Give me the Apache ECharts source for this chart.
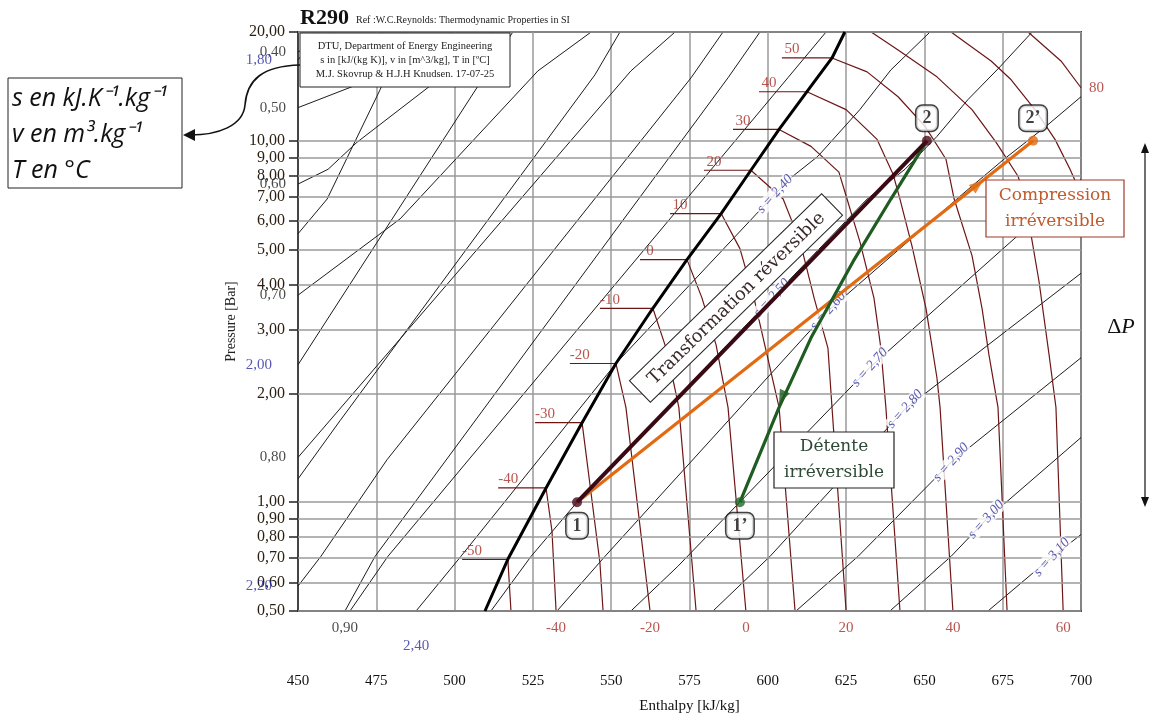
<!DOCTYPE html>
<html><head><meta charset="utf-8">
<script src="https://cdn.jsdelivr.net/npm/echarts/dist/echarts.min.js"></script>
<style>html,body{margin:0;padding:0;background:#fff}#c{width:1152px;height:719px}</style>
</head><body><div id="c"></div>
<script>
// ---------- DATA (h in kJ/kg, P in bar) ----------
const pressureTicks = [20,10,9,8,7,6,5,4,3,2,1,0.9,0.8,0.7,0.6,0.5];

const satVap = [[509.7,0.5],[517.0,0.695],[529.2,1.095],[540.7,1.66],[551.5,2.42],[563.3,3.44],[574.2,4.69],[585.1,6.29],[594.6,8.29],[603.6,10.75],[612.5,13.67],[620.5,16.95],[624.6,20]];

// isotherms (first two points: two-phase part ending on the saturation line)
const tM50 = [[502.4,0.695],[517.0,0.695],[518.0,0.5]];
const tM40 = [[513.9,1.095],[529.2,1.095],[531.1,0.83],[532.4,0.5]];
const tM30 = [[525.7,1.66],[540.7,1.66],[546.4,0.68],[547.4,0.5]];
const tM20 = [[536.8,2.42],[551.5,2.42],[554.7,1.83],[562.4,0.5]];
const tM10 = [[546.4,3.44],[563.3,3.44],[567.2,2.72],[570.1,2.11],[571.6,1.83],[577.1,0.5]];
const t0   = [[559.2,4.69],[574.2,4.69],[579.0,3.67],[583.5,2.72],[587.3,1.83],[593.0,0.5]];
const t10  = [[568.8,6.29],[585.1,6.29],[591.1,5.03],[595.6,3.67],[603.6,1.83],[608.7,0.5]];
const t20  = [[579.6,8.29],[594.6,8.29],[604.9,6.90],[610.3,5.26],[614.8,3.67],[619.2,2.67],[620.5,1.83],[625.0,0.5]];
const t30  = [[588.9,10.75],[603.6,10.75],[613.8,9.65],[622.7,8.19],[625.3,6.90],[629.4,5.26],[633.9,3.67],[636.1,2.67],[637.7,1.83],[642.2,0.5]];
const t40  = [[597.2,13.67],[612.5,13.67],[625.0,12.20],[634.9,10.09],[640.0,8.08],[642.2,6.90],[646.0,5.13],[650.5,3.44],[654.0,2.21],[655.0,1.83],[659.1,0.5]];
const t50  = [[604.5,16.95],[620.5,16.95],[631.7,15.51],[641.6,13.24],[650.2,10.96],[656.9,8.89],[659.5,6.90],[665.2,4.81],[668.4,3.44],[670.6,2.56],[673.5,1.83],[676.4,0.5]];
const t60  = [[633.0,20],[641.6,17.83],[654.0,15.03],[665.2,12.20],[672.9,9.90],[679.9,7.98],[682.1,6.90],[686.6,4.08],[689.8,2.56],[692.0,1.83],[694.3,0.5]];
const t70  = [[658.5,20],[671.3,16.63],[677.7,14.75],[685.3,12.20],[691.7,10.09],[696.5,8.34],[700,7.12]];
const t80  = [[683.1,20],[693.6,16.63],[700,14.02]];
const isoTwoPhaseNames = ['-50','-40','-30','-20','-10','0','10','20','30','40','50'];
const isoBottomNames = ['-40','-20','0','20','40','60'];

// lines labelled 0,40 ... 0,90
const q40 = [[450,17.61],[461.8,20]];
const q50 = [[450,12.35],[467.2,14.11],[512.3,20]];
const q60 = [[450,7.59],[459.6,8.34],[468.8,9.90],[514.5,20]];
const q70 = [[450,3.74],[482.6,6.08],[526.6,15.61],[543.6,20]];
const q80 = [[450,1.33],[556.3,15.61],[570.4,20]];
const q90 = [[465.0,0.5],[474.6,0.708],[587.3,14.94],[597.5,20]];

// isentropes
const s180 = [[450,16.74],[457.0,20]];
const s190 = [[450,5.53],[459.3,6.90],[476.2,13.84],[484.2,20]];
const s200 = [[450,2.40],[518.6,20]];
const s210 = [[450,1.16],[463.4,1.68],[544.8,15.22],[552.8,20]];
const s220 = [[450,0.586],[457.3,0.708],[478.4,1.31],[575.5,14.94],[585.7,20]];
const s230 = [[466.6,0.5],[478.7,0.708],[606.4,14.94],[618.6,20]];
const s240 = [[487.7,0.5],[502.0,0.708],[551.5,2.42],[602.3,7.12],[606.8,7.83],[616.0,9.06],[629.4,12.20],[639.3,15.71],[651.8,20]];
const s250 = [[511.6,0.5],[524.4,0.708],[539.1,1.0],[601.3,3.67],[631.7,6.90],[643.8,8.34],[654.0,10.28],[663.9,13.0],[674.1,16.01],[684.4,20]];
const s260 = [[532.7,0.5],[548.0,0.708],[619.2,3.38],[663.0,7.22],[675.4,8.89],[688.8,10.96],[700,13.24]];
const s270 = [[556.3,0.5],[571.3,0.665],[632.6,2.36],[700,7.83]];
const s280 = [[582.5,0.5],[600.7,0.708],[643.8,1.81],[700,4.30]];
const s290 = [[609.0,0.5],[628.8,0.708],[658.5,1.29],[700,2.51]];
const s300 = [[639.0,0.5],[658.5,0.708],[669.7,0.895],[700,1.51]];
const s310 = [[670.3,0.5],[687.2,0.665],[700,0.814]];
const sOnLine = [['s = 2,40',602.3,7.12],['s = 2,50',601.3,3.67],['s = 2,60',619.2,3.38],['s = 2,70',632.6,2.36],['s = 2,80',643.8,1.81],['s = 2,90',658.5,1.29],['s = 3,00',669.7,0.895],['s = 3,10',690.7,0.704]];

// cycle points and processes
const pt1 = [539.1,1.0], pt2 = [650.8,10], pt2p = [684.7,10], pt1p = [591.1,1.0];
const reversible = [pt1, pt2];
const compression = [pt1, pt2p];
const detente = [[650.8,10],[639.3,6.90],[627.2,4.63],[613.8,2.85],[603.6,1.83],[591.1,1.0]];
const arrowOrange = [667,7.55];
const arrowGreen = [604.5,1.95];

// ---------- CHART ----------
const SERIF = '"Liberation Serif", "Times New Roman", serif';
const RED = '#a82a22', ISO = '#6e1616', BLUE = '#2e2e9e';
const fmtP = v => Number(v).toFixed(2).replace('.', ',');

function line(data, color, width, z) {
  return {type:'line', data, showSymbol:false, symbol:'none', silent:true, z:z||3,
          lineStyle:{color, width}, animation:false};
}
function labels(items, lab, z) {
  return {type:'scatter', silent:true, z:z||7, symbolSize:0.1, itemStyle:{color:'transparent'},
          data: items.map(it => ({name:it[0], value:[it[1], it[2]]})),
          label:Object.assign({show:true, formatter:'{b}', fontFamily:SERIF}, lab), animation:false};
}
const last = a => a[a.length-1];

const thinLines = [q40,q50,q60,q70,q80,q90,s180,s190,s200,s210,s220,s230,s240,s250,s260,s270,s280,s290,s300,s310];
const isotherms = [tM50,tM40,tM30,tM20,tM10,t0,t10,t20,t30,t40,t50,t60,t70,t80];

const series = [];
series.push({type:'line', data:[[450,0.5]], symbol:'none', z:1, silent:true, lineStyle:{opacity:0},
  markLine:{silent:true, symbol:'none', animation:false, label:{show:false},
    lineStyle:{color:'#9a9a9a', width:1.5, type:'solid'},
    data: pressureTicks.map(p => ({yAxis:p}))}});
thinLines.forEach(d => series.push(line(d, '#1c1c1c', 1, 3)));
isotherms.forEach(d => series.push(line(d, ISO, 1.2, 4)));
series.push(line(satVap, '#000', 3, 5));
// labels
series.push(labels([['0,40',...q40[0]],['0,50',...q50[0]],['0,60',...q60[0]],['0,70',...q70[0]],['0,80',...q80[0]]],
  {position:'left', distance:12, color:'#1a1a1a', fontSize:15}, 2));
series.push(labels([['1,80',...s180[0]],['2,00',...s200[0]],['2,20',...s220[0]]],
  {position:'left', distance:26, color:BLUE, fontSize:15}, 2));
series.push(labels([['0,90',...q90[0]]], {position:'bottom', distance:10, color:'#1a1a1a', fontSize:15}));
series.push(labels([['2,40',...s240[0]]], {position:'bottom', distance:28, color:BLUE, fontSize:15}));
series.push(labels(isotherms.slice(0,11).map((d,i)=>[isoTwoPhaseNames[i], ...d[0]]),
  {position:'top', distance:1, offset:[10,0], color:RED, fontSize:15}));
series.push(labels([[isoBottomNames[0],...last(tM40)],[isoBottomNames[1],...last(tM20)],[isoBottomNames[2],...last(t0)],
  [isoBottomNames[3],...last(t20)],[isoBottomNames[4],...last(t40)],[isoBottomNames[5],...last(t60)]],
  {position:'bottom', distance:10, color:RED, fontSize:15}));
series.push(labels([['80',...last(t80)]], {position:'right', distance:8, color:RED, fontSize:15}));
series.push(labels(sOnLine, {position:'inside', rotate:48, color:BLUE, fontSize:14, fontStyle:'italic',
  backgroundColor:'#fff', padding:[0,1]}, 6));
// processes
series.push(line(compression, '#e26a12', 3.2, 8));
series.push(line(detente, '#1f5c22', 3.2, 8));
series.push(line(reversible, '#3a0a14', 4, 9));
const boxLab = {show:true, backgroundColor:'#fff', borderColor:'#111', borderWidth:1.5, borderRadius:6,
  padding:[4,6,3,6], fontFamily:SERIF, fontWeight:'bold', fontSize:18, color:'#111'};
series.push({type:'scatter', z:10, silent:true, symbolSize:10, animation:false, data:[
  {value:pt1, itemStyle:{color:'#4a0d1c'}, label:Object.assign({}, boxLab, {formatter:'1', position:'bottom', distance:6})},
  {value:pt2, itemStyle:{color:'#4a0d1c'}, label:Object.assign({}, boxLab, {formatter:'2', position:'top', distance:5})},
  {value:pt2p, itemStyle:{color:'#e26a12'}, label:Object.assign({}, boxLab, {formatter:'2’', position:'top', distance:5})},
  {value:pt1p, itemStyle:{color:'#1f6a28'}, label:Object.assign({}, boxLab, {formatter:'1’', position:'bottom', distance:6})}
]});
series.push({type:'scatter', z:10, silent:true, symbol:'triangle', symbolSize:[11,14], animation:false, data:[
  {value:arrowOrange, symbolRotate:-51.6, itemStyle:{color:'#e26a12'}},
  {value:arrowGreen, symbolRotate:155, itemStyle:{color:'#1f5c22'}}
]});

const graphic = [
  {type:'text', x:300, y:7, z:100, style:{text:'R290', font:'bold 22px '+SERIF, fill:'#111'}},
  {type:'text', x:356, y:15, z:100, style:{text:'Ref :W.C.Reynolds: Thermodynamic Properties in SI', font:'10px '+SERIF, fill:'#222'}},
  {type:'group', x:300, y:33, z:100, children:[
    {type:'rect', z:100, shape:{x:0,y:0,width:210,height:54}, style:{fill:'#fff', stroke:'#222', lineWidth:1}},
    {type:'text', z:101, style:{x:105, y:6, text:'DTU, Department of Energy Engineering\ns in [kJ/(kg K)], v in [m^3/kg], T in [ºC]\nM.J. Skovrup & H.J.H Knudsen. 17-07-25',
      align:'center', font:'10.5px '+SERIF, lineHeight:14, fill:'#222'}}]},
  {type:'group', x:8, y:78, z:100, children:[
    {type:'rect', z:100, shape:{x:0,y:0,width:174,height:110}, style:{fill:'#fff', stroke:'#222', lineWidth:1}},
    {type:'text', z:101, style:{x:4, y:3, text:'s en kJ.K⁻¹.kg⁻¹\nv en m³.kg⁻¹\nT en °C',
      font:'italic 25px "Open Sans", sans-serif', lineHeight:36, fill:'#111'}}]},
  {type:'bezierCurve', z:100, shape:{x1:300, y1:65, cpx1:262, cpy1:66, cpx2:247, cpy2:80, x2:245, y2:105}, style:{stroke:'#111', lineWidth:1.6, fill:null}},
  {type:'bezierCurve', z:100, shape:{x1:245, y1:105, cpx1:243, cpy1:126, cpx2:218, cpy2:135, x2:190, y2:135}, style:{stroke:'#111', lineWidth:1.6, fill:null}},
  {type:'polygon', z:100, shape:{points:[[183,135],[195,129],[195,141]]}, style:{fill:'#111'}},
  {type:'line', z:100, shape:{x1:1145, y1:150, x2:1145, y2:500}, style:{stroke:'#111', lineWidth:1.2}},
  {type:'polygon', z:100, shape:{points:[[1145,143],[1141,153],[1149,153]]}, style:{fill:'#111'}},
  {type:'polygon', z:100, shape:{points:[[1145,507],[1141,497],[1149,497]]}, style:{fill:'#111'}},
  {type:'text', z:100, x:1121, y:327, style:{text:'{a|Δ}{b|P}', align:'center', verticalAlign:'middle',
    rich:{a:{font:'22px '+SERIF, fill:'#111'}, b:{font:'italic 22px '+SERIF, fill:'#111'}}}},
  {type:'group', x:736, y:298, rotation:44.2*Math.PI/180, z:100, children:[
    {type:'rect', z:100, shape:{x:-134,y:-15,width:268,height:30}, style:{fill:'#fff', stroke:'#222', lineWidth:1}},
    {type:'text', z:101, style:{x:0, y:1, text:'Transformation réversible', align:'center', verticalAlign:'middle',
      font:'18px "DejaVu Serif", serif', fill:'#3a2a2a'}}]},
  {type:'group', x:986, y:180, z:100, children:[
    {type:'rect', z:100, shape:{x:0,y:0,width:138,height:57}, style:{fill:'#fff', stroke:'#a03a2a', lineWidth:1.2}},
    {type:'text', z:101, style:{x:69, y:29, text:'Compression\nirréversible', align:'center', verticalAlign:'middle',
      font:'17px "DejaVu Serif", serif', lineHeight:26, fill:'#c05a2c'}}]},
  {type:'group', x:774, y:432, z:100, children:[
    {type:'rect', z:100, shape:{x:0,y:0,width:120,height:56}, style:{fill:'#fff', stroke:'#222', lineWidth:1.2}},
    {type:'text', z:101, style:{x:60, y:28, text:'Détente\nirréversible', align:'center', verticalAlign:'middle',
      font:'17px "DejaVu Serif", serif', lineHeight:26, fill:'#2e4a36'}}]}
];

const option = {
  animation:false,
  backgroundColor:'#fff',
  grid:{left:298, top:32, right:71, bottom:104, show:true, borderColor:'#444', borderWidth:2},
  xAxis:{type:'value', min:450, max:700, interval:25,
    axisLine:{show:true, lineStyle:{color:'#444', width:2}}, axisTick:{show:false},
    axisLabel:{margin:63, fontFamily:SERIF, fontSize:15, color:'#111'},
    splitLine:{show:true, lineStyle:{color:'#9a9a9a', width:1.5}},
    name:'Enthalpy [kJ/kg]', nameLocation:'middle', nameGap:88,
    nameTextStyle:{fontFamily:SERIF, fontSize:15, color:'#111'}},
  yAxis:{type:'log', logBase:10, min:0.5, max:20,
    axisLine:{show:true, lineStyle:{color:'#444', width:2}},
    axisTick:{show:true, length:9, customValues:pressureTicks, lineStyle:{color:'#222', width:1.5}},
    axisLabel:{show:true, customValues:pressureTicks, formatter:v=>fmtP(v), margin:13,
      fontFamily:SERIF, fontSize:16, color:'#2a1e10'},
    splitLine:{show:false},
    name:'Pressure [Bar]', nameLocation:'middle', nameGap:58,
    nameTextStyle:{fontFamily:SERIF, fontSize:14, color:'#222'}},
  series, graphic
};
const chart = echarts.init(document.getElementById('c'));
chart.setOption(option);
</script></body></html>
